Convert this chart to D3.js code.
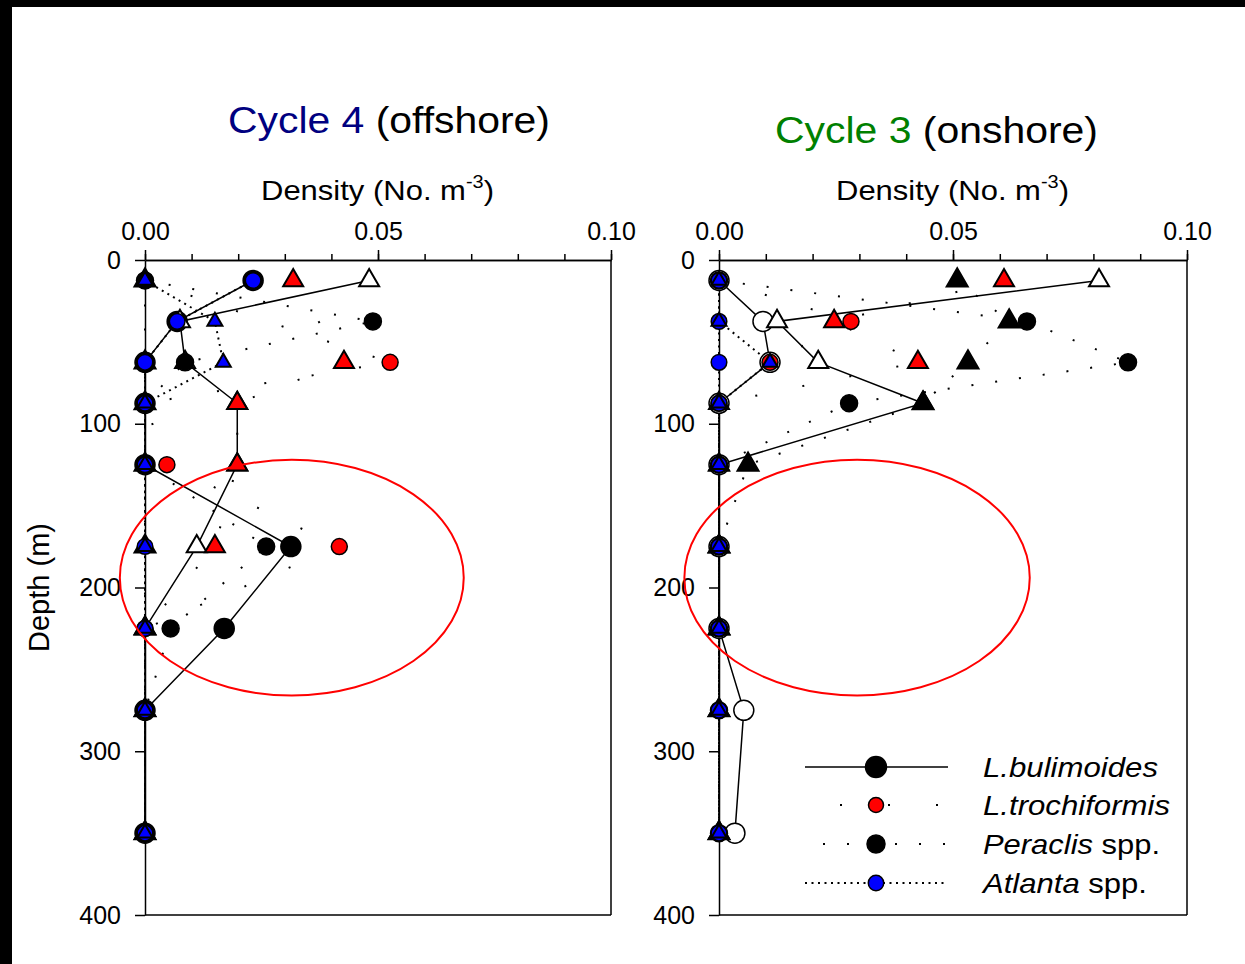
<!DOCTYPE html>
<html>
<head>
<meta charset="utf-8">
<title>Pteropod density profiles</title>
<script src="https://cdnjs.cloudflare.com/ajax/libs/d3/7.8.5/d3.min.js"></script>
<style>
	body { margin: 0; background: #fff; }
	svg { display: block; font-family: "Liberation Sans", Arial, sans-serif; }
	.axis path, .axis line { stroke: #000; stroke-width: 1.5; }
	.axis text { font-size: 25px; fill: #000; font-family: "Liberation Sans", Arial, sans-serif; }
</style>
</head>
<body>
<svg id="chart" width="1245" height="964"></svg>
<script>
	// depth of each net (m)
	const depths = [12.5, 37.5, 62.5, 87.5, 125, 175, 225, 275, 350];
	const xTicks = [0, 0.05, 0.10];
	const xMinor = [0, 0.01, 0.02, 0.03, 0.04, 0.05, 0.06, 0.07, 0.08, 0.09, 0.10];
	const yTicks = [0, 100, 200, 300, 400];

	// Cycle 4 (offshore), circles and triangles for each species (null = no sample)
	const c4BulCircle = [0.0232, 0.0069, 0, 0, 0, 0.0313, 0.0170, 0, 0];
	const c4BulTri    = [0.0481, 0.0075, 0.0086, 0.0198, 0.0198, 0.0111, 0, 0, 0];
	const c4TroCircle = [0, null, 0.0526, 0, 0.0047, 0.0417, 0, 0, 0];
	const c4TroTri    = [0.0318, null, 0.0427, 0.0198, 0.0198, 0.0150, 0, 0, 0];
	const c4PerCircle = [0, 0.0489, 0.0086, 0, 0, 0.0260, 0.0055, 0, 0];
	const c4PerTri    = [0, null, 0, 0, 0, 0, 0, 0, 0];
	const c4AtlCircle = [0.0232, 0.0069, 0, 0, 0, 0, 0, 0, 0];
	const c4AtlTri    = [0, 0.0150, 0.0168, 0, 0, 0, 0, 0, 0];

	// Cycle 3 (onshore)
	const c3BulCircle = [0, 0.0094, 0.0109, 0, 0, 0, 0, 0.0053, 0.0034];
	const c3BulTri    = [0.0812, 0.0124, 0.0212, 0.0436, 0, 0, 0, 0, 0];
	const c3TroCircle = [0, 0.0282, 0.0109, 0, 0, 0, 0, 0, 0];
	const c3TroTri    = [0.0609, 0.0246, 0.0425, 0, 0, 0, 0, 0, 0];
	const c3PerCircle = [0, 0.0658, 0.0874, 0.0278, 0, 0, 0, 0, 0];
	const c3PerTri    = [0.0509, 0.0620, 0.0532, 0.0436, 0.0062, 0, 0, 0, 0];
	const c3AtlCircle = [0, 0, 0, 0, 0, 0, 0, 0, 0];
	const c3AtlTri    = [0, 0, 0.0109, 0, 0, 0, 0, 0, 0];

	const legendNames = [["L.bulimoides", ""], ["L.trochiformis", ""], ["Peraclis", " spp."], ["Atlanta", " spp."]];

	// red ellipse annotation, in data units (density, depth)
	const c4Ring = { cx: 0.0315, cy: 194, rx: 0.0369, ry: 72 };
	const c3Ring = { cx: 0.0295, cy: 194, rx: 0.0369, ry: 72 };

	// line style per species
	const styles = {
		bul: { dash: null, r: 10, tri: 20 },
		tro: { dash: "2,46", r: 8, tri: 20 },
		per: { dash: "2,22", r: 8.5, tri: 21 },
		atl: { dash: "2,4.5", r: 7.8, tri: 15 }
	};

	const svg = d3.select("#chart");
	svg.append("rect").attr("width", 1245).attr("height", 964).attr("fill", "#fff");

	const y = d3.scaleLinear().domain([0, 400]).range([260, 915]);

	function triPath(side) {
		return d3.symbol().type(d3.symbolTriangle).size(side * side * Math.sqrt(3) / 4)();
	}

	function drawPanel(x, series, ring) {
		const g = svg.append("g");
		const line = d3.line().x(d => x(d[0])).y(d => y(d[1]));

		// frame
		g.append("line").attr("x1", x(0.10)).attr("x2", x(0.10)).attr("y1", y(0)).attr("y2", y(400))
			.attr("stroke", "#000").attr("stroke-width", 1.5);
		g.append("line").attr("x1", x(0)).attr("x2", x(0.10)).attr("y1", y(400)).attr("y2", y(400))
			.attr("stroke", "#000").attr("stroke-width", 1.5);

		g.append("g").attr("class", "axis").attr("transform", "translate(0," + y(0) + ")")
			.call(d3.axisTop(x).tickValues(xMinor).tickSize(6).tickSizeOuter(0).tickFormat(""));
		g.append("g").attr("class", "axis").attr("transform", "translate(0," + y(0) + ")")
			.call(d3.axisTop(x).tickValues(xTicks).tickSize(10).tickSizeOuter(0).tickPadding(10).tickFormat(d3.format(".2f")));
		g.append("g").attr("class", "axis").attr("transform", "translate(" + x(0) + ",0)")
			.call(d3.axisLeft(y).tickValues(yTicks).tickSize(10).tickSizeOuter(0).tickPadding(14));

		const pairs = s => s.values.map((v, i) => [v, depths[i]]).filter(d => d[0] != null);

		// profile lines
		series.forEach(s => {
			g.append("path")
				.datum(pairs(s))
				.attr("d", line)
				.attr("fill", "none")
				.attr("stroke", "#000")
				.attr("stroke-width", s.dash ? 2 : 1.5)
				.attr("stroke-dasharray", s.dash);
		});

		// markers
		series.forEach(s => {
			const pts = g.append("g").selectAll("path")
				.data(pairs(s))
				.join("path")
				.attr("transform", d => "translate(" + x(d[0]) + "," + y(d[1]) + ")")
				.attr("fill", s.fill)
				.attr("stroke", "#000")
				.attr("stroke-width", 1.5);
			if (s.shape == "circle") pts.attr("d", d3.arc()({ innerRadius: 0, outerRadius: s.size, startAngle: 0, endAngle: 2 * Math.PI }));
			else pts.attr("d", triPath(s.size)).attr("stroke-width", 2);
		});

		g.append("ellipse")
			.attr("cx", x(ring.cx)).attr("cy", y(ring.cy))
			.attr("rx", x(ring.cx + ring.rx) - x(ring.cx)).attr("ry", y(ring.cy + ring.ry) - y(ring.cy))
			.attr("fill", "none").attr("stroke", "#ff0000").attr("stroke-width", 2);
		return g;
	}

	// draw order: L.bulimoides, L.trochiformis, Peraclis, Atlanta
	function makeSeries(bc, bt, pc, pt, tc, tt, ac, at, bulFill) {
		return [
			{ values: bc, shape: "circle", fill: bulFill, size: styles.bul.r, dash: styles.bul.dash },
			{ values: bt, shape: "tri", fill: "#fff", size: styles.bul.tri, dash: styles.bul.dash },
			{ values: tc, shape: "circle", fill: "#ff0000", size: styles.tro.r, dash: styles.tro.dash },
			{ values: tt, shape: "tri", fill: "#ff0000", size: styles.tro.tri, dash: styles.tro.dash },
			{ values: pc, shape: "circle", fill: "#000", size: styles.per.r, dash: styles.per.dash },
			{ values: pt, shape: "tri", fill: "#000", size: styles.per.tri, dash: styles.per.dash },
			{ values: ac, shape: "circle", fill: "#0000ff", size: styles.atl.r, dash: styles.atl.dash },
			{ values: at, shape: "tri", fill: "#0000ff", size: styles.atl.tri, dash: styles.atl.dash }
		];
	}

	const x4 = d3.scaleLinear().domain([0, 0.10]).range([145, 611]);
	const x3 = d3.scaleLinear().domain([0, 0.10]).range([719, 1187]);

	drawPanel(x4, makeSeries(c4BulCircle, c4BulTri, c4PerCircle, c4PerTri, c4TroCircle, c4TroTri, c4AtlCircle, c4AtlTri, "#000"), c4Ring);
	drawPanel(x3, makeSeries(c3BulCircle, c3BulTri, c3PerCircle, c3PerTri, c3TroCircle, c3TroTri, c3AtlCircle, c3AtlTri, "#fff"), c3Ring);

	// titles
	function title(xpos, ybase, word, color, rest, len) {
		const t = svg.append("text").attr("x", xpos).attr("y", ybase)
			.attr("font-size", 37).attr("textLength", len).attr("lengthAdjust", "spacingAndGlyphs");
		t.append("tspan").attr("fill", color).text(word);
		t.append("tspan").attr("fill", "#000").text(rest);
	}
	title(228, 133, "Cycle 4", "#000080", " (offshore)", 322);
	title(775, 143, "Cycle 3", "#008000", " (onshore)", 323);

	function densityLabel(xpos) {
		const t = svg.append("text").attr("x", xpos).attr("y", 200).attr("font-size", 28)
			.attr("textLength", 233).attr("lengthAdjust", "spacingAndGlyphs");
		t.append("tspan").text("Density (No. m");
		t.append("tspan").attr("font-size", 18).attr("dy", -12).text("-3");
		t.append("tspan").attr("dy", 12).text(")");
	}
	densityLabel(261);
	densityLabel(836);

	svg.append("text")
		.attr("transform", "translate(49," + y(200) + ") rotate(-90)")
		.attr("text-anchor", "middle")
		.attr("font-size", 29)
		.text("Depth (m)");

	// legend
	const legendRows = [767, 805, 844, 883];
	const legendMarks = [
		{ dash: styles.bul.dash, off: 0, fill: "#000", r: 10.5 },
		{ dash: styles.tro.dash, off: 13, fill: "#ff0000", r: 7.5 },
		{ dash: styles.per.dash, off: 6, fill: "#000", r: 9 },
		{ dash: styles.atl.dash, off: 0, fill: "#0000ff", r: 7.7 }
	];
	const legendLen = [175, 187, 177, 164];
	legendRows.forEach((ly, i) => {
		const m = legendMarks[i];
		svg.append("line").attr("x1", 805).attr("x2", 948).attr("y1", ly).attr("y2", ly)
			.attr("stroke", "#000").attr("stroke-width", m.dash ? 2 : 1.5)
			.attr("stroke-dasharray", m.dash).attr("stroke-dashoffset", m.off);
		svg.append("circle").attr("cx", 876).attr("cy", ly).attr("r", m.r)
			.attr("fill", m.fill).attr("stroke", "#000").attr("stroke-width", 1.5);
		const t = svg.append("text").attr("x", 983).attr("y", ly + 10).attr("font-size", 28)
			.attr("textLength", legendLen[i]).attr("lengthAdjust", "spacingAndGlyphs");
		t.append("tspan").attr("font-style", "italic").text(legendNames[i][0]);
		if (legendNames[i][1]) t.append("tspan").text(legendNames[i][1]);
	});

	// black frame strips from the original slide
	svg.append("rect").attr("x", 0).attr("y", 0).attr("width", 1245).attr("height", 7).attr("fill", "#000");
	svg.append("rect").attr("x", 0).attr("y", 0).attr("width", 12).attr("height", 964).attr("fill", "#000");
</script>
</body>
</html>
